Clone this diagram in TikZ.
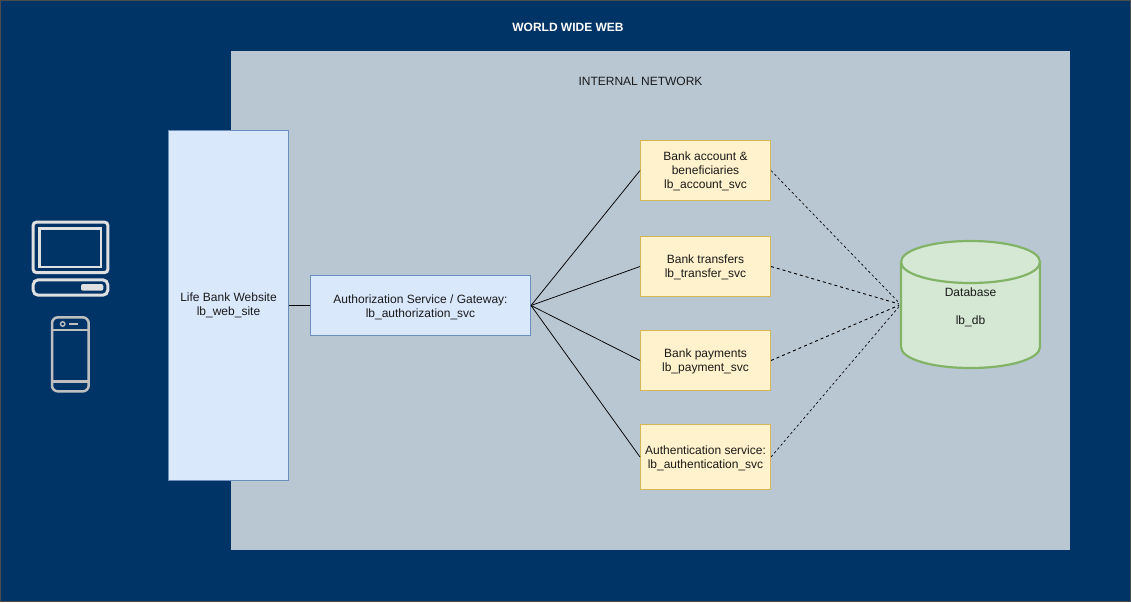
\documentclass[tikz,border=0pt]{standalone}
\usepackage{fontspec}
\setmainfont{Liberation Sans}
\definecolor{navy}{HTML}{003366}
\definecolor{innerbg}{HTML}{B9C7D3}
\definecolor{bluefill}{HTML}{DAE8FC}
\definecolor{blueline}{HTML}{6C8EBF}
\definecolor{yelfill}{HTML}{FFF2CC}
\definecolor{yelline}{HTML}{D6B656}
\definecolor{grnfill}{HTML}{D5E8D4}
\definecolor{grnline}{HTML}{82B366}
\definecolor{txt}{HTML}{1A1A1A}
\newcommand{\dnrule}[1]{\rule{0pt}{#1pt}}
\tikzset{
  lbl/.style={font=\fontsize{12}{14}\selectfont,text=txt,align=center,inner sep=0pt},
  bluebox/.style={lbl,draw=blueline,fill=bluefill,line width=1pt},
  yelbox/.style={lbl,draw=yelline,fill=yelfill,line width=1pt,minimum width=130pt},
  solidlink/.style={draw=black,line width=0.75pt},
  dashlink/.style={draw=black,line width=0.9pt,dash pattern=on 3pt off 3pt,shorten >=2pt},
  thindash/.style={draw=black,line width=0.65pt,dash pattern=on 2.5pt off 2.5pt,shorten >=2pt},
  iconw/.style={draw=white!88!black,line width=3pt,rounded corners=3pt},
  icong/.style={draw=white!75!black,line width=2.5pt}
}
\begin{document}
\begin{tikzpicture}[x=1pt,y=-1pt]
\useasboundingbox (0,0) rectangle (1131,602);
\node[draw=black!70,fill=navy,line width=1pt,minimum width=1130pt,minimum height=601pt,inner sep=0pt] (outer) at (565.5,301) {};
\node[fill=innerbg,minimum width=839pt,minimum height=499pt,inner sep=0pt] (inner) at (650.5,300.5) {};
\node[lbl,text=white,font=\fontsize{12}{14}\selectfont\bfseries] (www) at (568,27) {WORLD WIDE WEB};
\node[lbl] (net) at (640.5,81) {INTERNAL NETWORK};
% database body
\draw[draw=grnline,fill=grnfill,line width=2.2pt] (901,262) .. controls (901,250) and (932,241) .. (970.5,241) .. controls (1009,241) and (1040,250) .. (1040,262) -- (1040,347) .. controls (1040,359) and (1009,368) .. (970.5,368) .. controls (932,368) and (901,359) .. (901,347) -- cycle;
\draw[draw=grnline,line width=2.2pt] (901,262) .. controls (901,274) and (932,283) .. (970.5,283) .. controls (1009,283) and (1040,274) .. (1040,262);
\node[lbl,minimum width=139pt,minimum height=127pt] (db) at (970.5,304.5) {\dnrule{13.7}Database\\[14pt]lb\_db};
% boxes
\node[bluebox,minimum width=120pt,minimum height=350pt] (web) at (228.5,305.5) {Life Bank Website\\lb\_web\_site};
\node[bluebox,minimum width=220pt,minimum height=60pt] (auth) at (420.5,305.5) {\dnrule{11.7}Authorization Service / Gateway:\\lb\_authorization\_svc};
\node[yelbox,minimum height=60pt] (acc) at (705.5,170.5) {\dnrule{10.7}Bank account \&\\beneficiaries\\lb\_account\_svc};
\node[yelbox,minimum height=60pt] (trf) at (705.5,266.5) {\dnrule{10.7}Bank transfers\\lb\_transfer\_svc};
\node[yelbox,minimum height=60pt] (pay) at (705.5,360.5) {\dnrule{10.7}Bank payments\\lb\_payment\_svc};
\node[yelbox,minimum height=65pt] (authn) at (705.5,457) {\dnrule{11.7}Authentication service:\\lb\_authentication\_svc};
% connectors
\draw[solidlink] (web.east) -- (auth.west);
\foreach \t in {acc,trf,pay,authn} {
  \draw[solidlink] (auth.east) -- (\t.west);
}
\draw[thindash] (acc.east) -- (db.west);
\draw[dashlink] (trf.east) -- (db.west);
\draw[dashlink] (pay.east) -- (db.west);
\draw[thindash] (authn.east) -- (db.west);
% desktop icon
\draw[iconw] (33.2,222.2) rectangle (107.8,272.5);
\draw[iconw,rounded corners=0pt,line width=2.4pt] (39.5,228.5) rectangle (101,267);
\draw[iconw,rounded corners=5pt] (33.2,279.8) rectangle (107.8,295.2);
\fill[white!88!black,rounded corners=2pt] (81,284) rectangle (103.3,290.7);
% phone icon
\draw[icong,rounded corners=6pt] (52,317.3) rectangle (88.7,391.4);
\draw[icong] (52,330) -- (88.7,330);
\draw[icong] (52,381.5) -- (88.7,381.5);
\draw[icong,line width=1.4pt] (62.7,324) circle (2.2pt);
\draw[icong,line width=1.8pt] (69.3,324) -- (78.3,324);
\end{tikzpicture}
\end{document}
